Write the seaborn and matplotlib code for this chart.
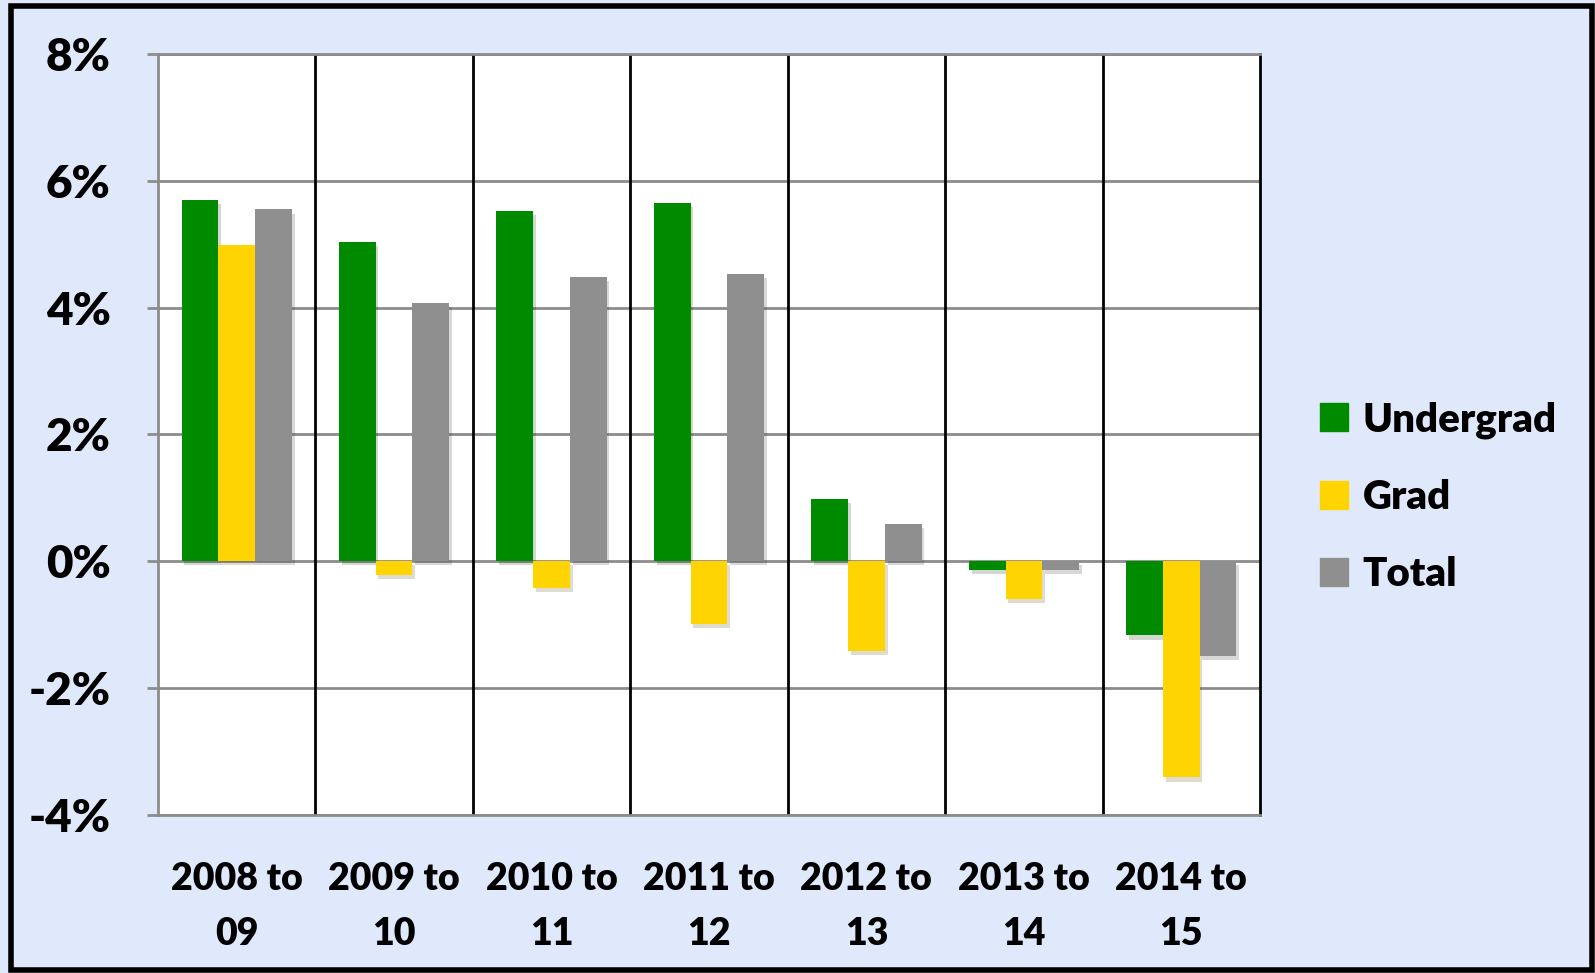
import numpy as np
import pandas as pd
import matplotlib
matplotlib.use("Agg")
import matplotlib.pyplot as plt
import matplotlib.patheffects as pe
from matplotlib.patches import Rectangle
import seaborn as sns

# données (variation annuelle des inscriptions, en %)
periods = ["2008 to\n09", "2009 to\n10", "2010 to\n11", "2011 to\n12",
           "2012 to\n13", "2013 to\n14", "2014 to\n15"]
undergrad = [5.70, 5.04, 5.52, 5.65, 0.98, -0.13, -1.17]
grad = [4.98, -0.21, -0.42, -0.99, -1.41, -0.59, -3.41]
total = [5.55, 4.08, 4.48, 4.53, 0.59, -0.14, -1.49]
groups = ["Undergrad", "Grad", "Total"]
colors = ["#008A00", "#FFD400", "#8F8F8F"]
yticks = [-4, -2, 0, 2, 4, 6, 8]

df = pd.DataFrame({
    "period": periods * 3,
    "group": [g for g in groups for _ in periods],
    "value": undergrad + grad + total,
})

sns.set_theme(style="white")
plt.rcParams["font.family"] = ["Lato", "DejaVu Sans"]
plt.rcParams["text.color"] = "black"
plt.rcParams["xtick.color"] = "black"
plt.rcParams["ytick.color"] = "black"

bg = "#E0E9FB"
fig = plt.figure(figsize=(15.95, 9.73), dpi=100, facecolor=bg)
ax = fig.add_axes([0.099, 0.1625, 0.691, 0.782])
ax.set_facecolor("white")

sns.barplot(data=df, x="period", y="value", hue="group", hue_order=groups,
            palette=colors, saturation=1, width=0.7, ax=ax, legend=False,
            zorder=3)

for bar in ax.patches:
    bar.set_edgecolor("none")
    bar.set_path_effects([pe.SimplePatchShadow(offset=(2, -3), alpha=0.18),
                          pe.Normal()])

ax.set_ylim(-4, 8)
ax.set_xlim(-0.5, len(periods) - 0.5)
ax.set_yticks(yticks)
ax.set_yticklabels([f"{v}%" for v in yticks], fontsize=33, fontweight="heavy")
ax.set_xticklabels(periods, fontsize=27, fontweight="heavy", linespacing=1.75)
ax.set_xlabel("")
ax.set_ylabel("")

# grille horizontale grise
ax.yaxis.grid(True, color="#8C8C8C", lw=2, zorder=1)
ax.xaxis.grid(False)
# séparateurs verticaux noirs
for i in range(len(periods) - 1):
    ax.axvline(i + 0.5, color="black", lw=2, zorder=2)

ax.tick_params(axis="y", length=8, width=2, color="#8C8C8C", pad=26,
               direction="out", left=True, labelcolor="black")
ax.tick_params(axis="x", length=0, pad=34, labelcolor="black")
for side, sp in ax.spines.items():
    sp.set_visible(True)
    sp.set_linewidth(2)
    sp.set_color("#8C8C8C")
ax.spines["right"].set_color("black")

# légende
handles = [Rectangle((0, 0), 1, 1, color=c) for c in colors]
leg = fig.legend(handles, groups, loc="center left",
                 bbox_to_anchor=(0.805, 0.489), frameon=False,
                 prop={"size": 29, "weight": "heavy"},
                 handlelength=0.7, handleheight=0.7, handletextpad=0.35,
                 labelspacing=1.0)
for t in leg.get_texts():
    t.set_color("black")

# cadre noir autour de la figure
fig.patches.append(Rectangle((0.007, 0.003), 0.991, 0.991,
                             transform=fig.transFigure, fill=False,
                             edgecolor="black", lw=4))

fig.savefig("out.png", dpi=100, facecolor=bg)
